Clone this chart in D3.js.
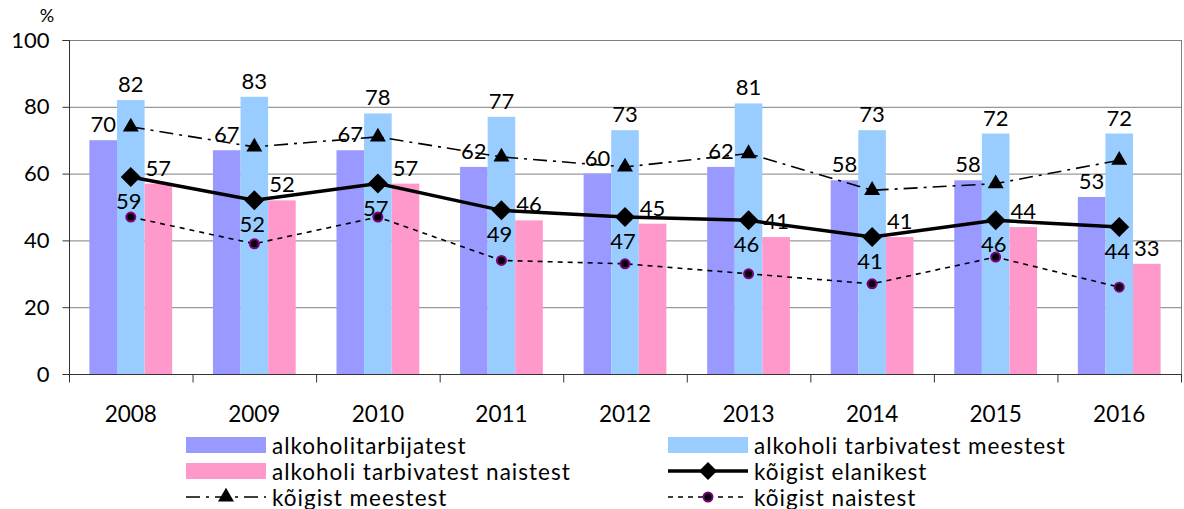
<!DOCTYPE html>
<html><head><meta charset="utf-8">
<script src="https://cdn.jsdelivr.net/npm/d3@7"></script>
<style>body{margin:0;background:#fff}svg{display:block}text{font-family:Lato,"Open Sans",sans-serif;fill:#000}</style>
</head><body><svg id="c" width="1184" height="509"></svg>
<script>
const years = ["2008","2009","2010","2011","2012","2013","2014","2015","2016"];
const barSeries = ["alkoholitarbijatest","alkoholi tarbivatest meestest","alkoholi tarbivatest naistest"];
const tarbijatest = [70,67,67,62,60,62,58,58,53];
const tarbivatestMeestest = [82,83,78,77,73,81,73,72,72];
const tarbivatestNaistest = [57,52,57,46,45,41,41,44,33];
const koigistElanikest = [59,52,57,49,47,46,41,46,44];
const koigistMeestest = [74,68,71,65,62,66,55,57,64];
const koigistNaistest = [47,39,47,34,33,30,27,35,26];
const yTicks = [0,20,40,60,80,100];
const barColors = ["#9999FF","#99CCFF","#FF99CC"];

const svg = d3.select("#c");
const L=69, R=1181, T=40, B=374;
const x = d3.scaleBand().domain(years).range([L,R]);
const bw = x.bandwidth();
const xs = d3.scaleBand().domain(barSeries).range([bw*0.165, bw*0.835]);
const y = d3.scaleLinear().domain([0,100]).range([B,T]);
const cx = d => x(d)+bw/2;

// gridlines
svg.append("g").selectAll("line").data(yTicks.filter(t=>t>0)).join("line")
  .attr("x1",L).attr("x2",R).attr("y1",d=>y(d)+0.5).attr("y2",d=>y(d)+0.5)
  .attr("stroke","#808080").attr("stroke-width",1);
svg.append("line").attr("x1",R+0.5).attr("x2",R+0.5).attr("y1",T).attr("y2",B).attr("stroke","#808080");

// bars
const barData = [tarbijatest,tarbivatestMeestest,tarbivatestNaistest];
barData.forEach((arr,si)=>{
  svg.append("g").selectAll("rect").data(arr).join("rect")
    .attr("x",(d,i)=>x(years[i])+xs(barSeries[si]))
    .attr("width",xs.bandwidth())
    .attr("y",d=>y(d)).attr("height",d=>B-y(d))
    .attr("fill",barColors[si]);
});

// axes
const yAxis = d3.axisLeft(y).tickValues(yTicks).tickSize(7).tickPadding(13);
const gy = svg.append("g").attr("transform",`translate(${L+0.5},0)`).call(yAxis);
gy.select(".domain").attr("stroke","#333").attr("d",`M-7,${T+0.5}H0V${B+0.5}`);
gy.selectAll(".tick line").attr("stroke","#333");
gy.selectAll("text").style("font-size","22px").attr("font-family","Lato");
gy.selectAll(".tick").attr("transform",d=>`translate(0,${y(d)+0.5})`);

const gx = svg.append("g").attr("transform",`translate(0,${B+0.5})`);
gx.append("line").attr("x1",L).attr("x2",R+1).attr("stroke","#333");
const bounds = years.map(d=>x(d)).concat([R]);
gx.selectAll("line.t").data(bounds).join("line").attr("class","t")
  .attr("x1",d=>d+0.5).attr("x2",d=>d+0.5).attr("y1",0).attr("y2",8).attr("stroke","#333");
gx.selectAll("text").data(years).join("text")
  .attr("x",d=>cx(d)).attr("y",47).attr("text-anchor","middle")
  .style("font-size","22.5px").text(d=>d);

svg.append("text").attr("x",47).attr("y",22).attr("text-anchor","middle").style("font-size","18px").text("%");

// lines
const line = d3.line().x((d,i)=>cx(years[i])).y(d=>y(d));
svg.append("path").datum(koigistMeestest).attr("d",line).attr("fill","none")
  .attr("stroke","#000").attr("stroke-width",1.6).attr("stroke-dasharray","14,6,3,6");
svg.append("path").datum(koigistNaistest).attr("d",line).attr("fill","none")
  .attr("stroke","#000").attr("stroke-width",1.6).attr("stroke-dasharray","5,5");
svg.append("path").datum(koigistElanikest).attr("d",line).attr("fill","none")
  .attr("stroke","#000").attr("stroke-width",3.5);

const tri = d3.symbol().type(d3.symbolTriangle).size(110);
const dia = (s)=>`M0,${-s}L${s},0L0,${s}L${-s},0Z`;
svg.append("g").selectAll("path").data(koigistMeestest).join("path")
  .attr("transform",(d,i)=>`translate(${cx(years[i])},${y(d)})`).attr("d",tri()).attr("fill","#000");
svg.append("g").selectAll("path").data(koigistElanikest).join("path")
  .attr("transform",(d,i)=>`translate(${cx(years[i])},${y(d)})`).attr("d",dia(10)).attr("fill","#000");
svg.append("g").selectAll("circle").data(koigistNaistest).join("circle")
  .attr("cx",(d,i)=>cx(years[i])).attr("cy",d=>y(d)).attr("r",4.5)
  .attr("fill","#000").attr("stroke","#800080").attr("stroke-width",2);

// bar labels
barData.forEach((arr,si)=>{
  svg.append("g").selectAll("text").data(arr).join("text")
    .attr("x",(d,i)=>x(years[i])+xs(barSeries[si])+xs.bandwidth()/2)
    .attr("y",d=>y(d)-8).attr("text-anchor","middle")
    .style("font-size","22px").text(d=>d);
});
// elanikest labels
svg.append("g").selectAll("text").data(koigistElanikest).join("text")
  .attr("x",(d,i)=>cx(years[i])-2).attr("y",d=>y(d)+32).attr("text-anchor","middle")
  .style("font-size","22px").text(d=>d);

// legend
const lg = svg.append("g").style("font-size","22.5px").style("letter-spacing","1px");
const items = [
  {t:barSeries[0], type:"bar", c:barColors[0], x:186, y:445},
  {t:barSeries[1], type:"bar", c:barColors[1], x:668, y:445},
  {t:barSeries[2], type:"bar", c:barColors[2], x:186, y:471},
  {t:"kõigist elanikest", type:"el", x:668, y:471},
  {t:"kõigist meestest", type:"me", x:186, y:497},
  {t:"kõigist naistest", type:"na", x:668, y:497}
];
items.forEach(it=>{
  const g = lg.append("g");
  if(it.type==="bar"){
    g.append("rect").attr("x",it.x).attr("y",it.y-8).attr("width",80).attr("height",16).attr("fill",it.c);
  } else {
    const dash = it.type==="me"?"14,6,3,6":it.type==="na"?"5,5":null;
    g.append("line").attr("x1",it.x).attr("x2",it.x+80).attr("y1",it.y).attr("y2",it.y)
      .attr("stroke","#000").attr("stroke-width",it.type==="el"?3.5:1.6).attr("stroke-dasharray",dash);
    const t = g.append("g").attr("transform",`translate(${it.x+40},${it.y})`);
    if(it.type==="el") t.append("path").attr("d",dia(9)).attr("fill","#000");
    if(it.type==="me") t.append("path").attr("d",tri()).attr("fill","#000");
    if(it.type==="na") t.append("circle").attr("r",4.5).attr("fill","#000").attr("stroke","#800080").attr("stroke-width",2);
  }
  g.append("text").attr("x",it.x+86).attr("y",it.y+8.5).text(it.t);
});
</script></body></html>
